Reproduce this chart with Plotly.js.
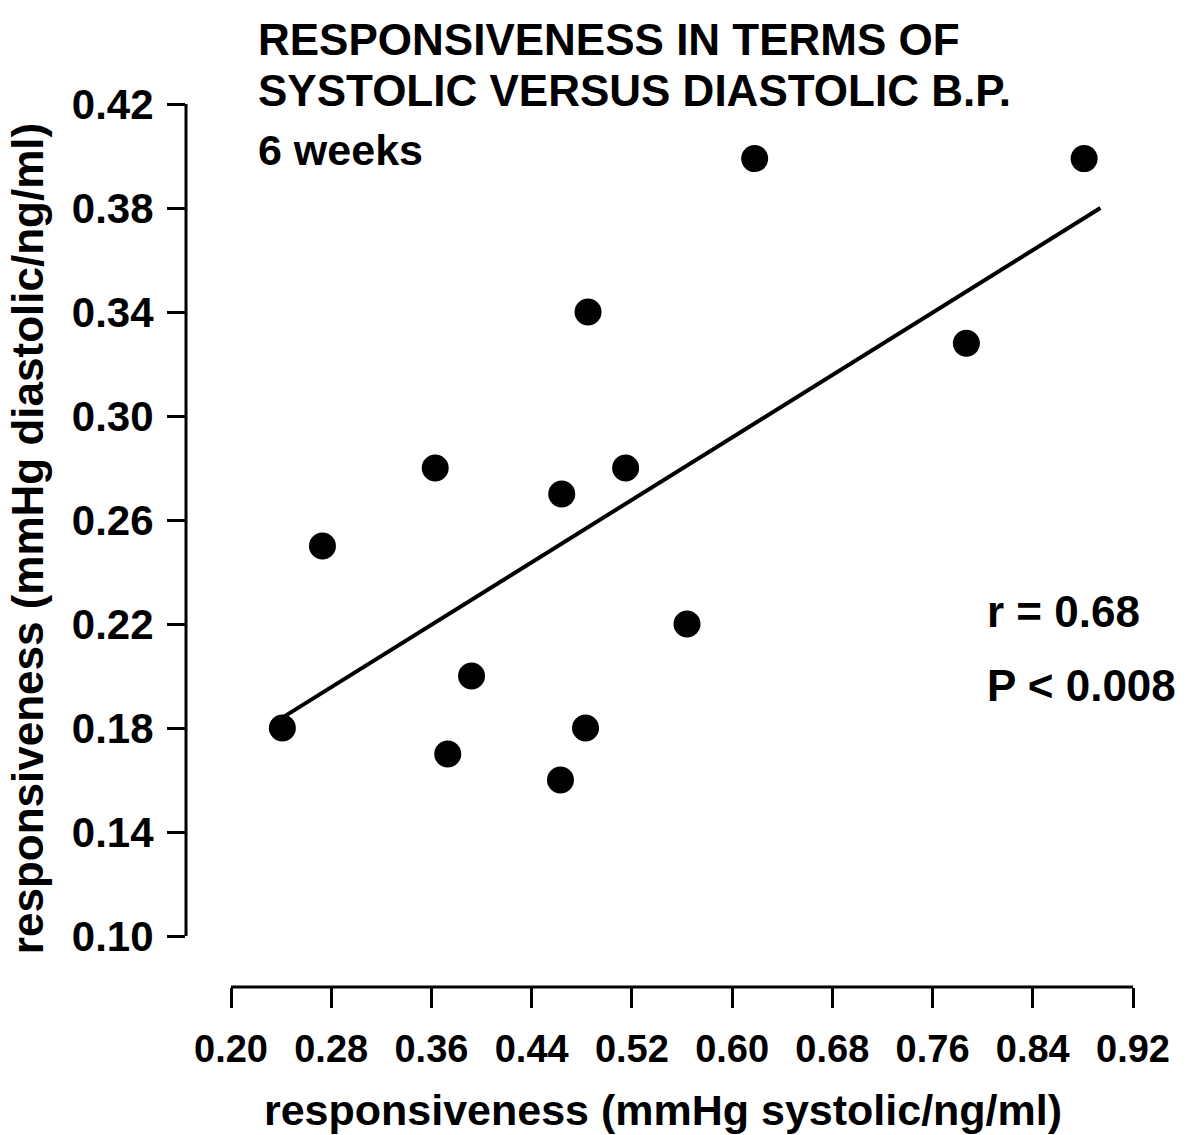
<!DOCTYPE html>
<html>
<head>
<meta charset="utf-8">
<script src="https://cdn.plot.ly/plotly-3.0.1.min.js"></script>
<style>html,body{margin:0;padding:0;background:#fff;}#chart{width:1196px;height:1135px;}</style>
</head>
<body>
<div id="chart"></div>
<script>
// Data
const systolic  = [0.241, 0.273, 0.363, 0.373, 0.392, 0.463, 0.464, 0.483, 0.485, 0.515, 0.564, 0.618, 0.787, 0.881];
const diastolic = [0.180, 0.250, 0.280, 0.170, 0.200, 0.160, 0.270, 0.180, 0.340, 0.280, 0.220, 0.399, 0.328, 0.399];
// regression line end points as drawn
const fitX = [0.241, 0.894];
const fitY = [0.184, 0.380];
// tick values
const xTicks = [0.20, 0.28, 0.36, 0.44, 0.52, 0.60, 0.68, 0.76, 0.84, 0.92];
const yTicks = [0.10, 0.14, 0.18, 0.22, 0.26, 0.30, 0.34, 0.38, 0.42];
const xTickText = xTicks.map(v => v.toFixed(2));
const yTickText = yTicks.map(v => v.toFixed(2));
const titleLines = ['RESPONSIVENESS IN TERMS OF', 'SYSTOLIC VERSUS DIASTOLIC B.P.'];
const subtitle = '6 weeks';
const statR = 'r = 0.68';
const statP = 'P < 0.008';

const FONT = '"Liberation Sans", Arial, Helvetica, sans-serif';
const L = 186, R = 1140, T = 90, B = 987;
const W = 1196, H = 1135;
// pixel scale of the reference: 0.20 -> 231, 0.92 -> 1133 ; 0.42 -> 104, 0.10 -> 936
const xpp = (1133 - 231) / 0.72, ypp = (936 - 104) / 0.32;
const xr = [0.20 - (231 - L) / xpp, 0.20 + (R - 231) / xpp];
const yr = [0.10 - (B - 936) / ypp, 0.42 + (104 - T) / ypp];
const px = p => (p - L) / (R - L);
const py = p => (B - p) / (B - T);

const traces = [
  {x: fitX, y: fitY, mode: 'lines', type: 'scatter', line: {color: '#000', width: 4}, hoverinfo: 'skip', showlegend: false},
  {x: systolic, y: diastolic, mode: 'markers', type: 'scatter', marker: {color: '#000', size: 27}, showlegend: false}
];

const bold = (size) => ({family: FONT, size: size, color: '#000', weight: 'bold'});

const layout = {
  width: W, height: H,
  paper_bgcolor: '#fff', plot_bgcolor: '#fff',
  margin: {l: L, r: W - R, t: T, b: H - B, pad: 0},
  showlegend: false,
  font: {family: FONT, color: '#000'},
  xaxis: {
    range: xr, tickvals: xTicks, ticktext: xTickText,
    showgrid: false, zeroline: false, showline: false,
    ticks: 'outside', ticklen: 20, tickwidth: 3, tickcolor: '#000',
    tickfont: bold(38),
    ticklabelstandoff: 8,
    title: {text: 'responsiveness (mmHg systolic/ng/ml)', font: bold(43), standoff: 26},
    automargin: false, fixedrange: true
  },
  yaxis: {
    range: yr, tickvals: yTicks, ticktext: yTickText,
    showgrid: false, zeroline: false, showline: false,
    ticks: 'outside', ticklen: 18, tickwidth: 3, tickcolor: '#000',
    tickfont: bold(42),
    ticklabelstandoff: 5,
    title: {text: 'responsiveness (mmHg diastolic/ng/ml)', font: bold(44), standoff: 14},
    automargin: false, fixedrange: true
  },
  shapes: [
    {type: 'line', xref: 'x', yref: 'paper', x0: xTicks[0], x1: xTicks[xTicks.length - 1], y0: 0, y1: 0, line: {color: '#000', width: 3}},
    {type: 'line', xref: 'paper', yref: 'y', x0: 0, x1: 0, y0: yTicks[0], y1: yTicks[yTicks.length - 1], line: {color: '#000', width: 3}}
  ],
  annotations: [
    {text: titleLines[0], xref: 'paper', yref: 'paper', x: px(256), y: py(40), xanchor: 'left', yanchor: 'middle', showarrow: false, font: bold(44)},
    {text: titleLines[1], xref: 'paper', yref: 'paper', x: px(256), y: py(90), xanchor: 'left', yanchor: 'middle', showarrow: false, font: bold(44)},
    {text: subtitle, xref: 'paper', yref: 'paper', x: px(256), y: py(150), xanchor: 'left', yanchor: 'middle', showarrow: false, font: bold(43)},
    {text: statR, xref: 'paper', yref: 'paper', x: px(985), y: py(611), xanchor: 'left', yanchor: 'middle', showarrow: false, font: bold(44)},
    {text: statP, xref: 'paper', yref: 'paper', x: px(985), y: py(686), xanchor: 'left', yanchor: 'middle', showarrow: false, font: bold(44)}
  ]
};

Plotly.newPlot('chart', traces, layout, {displayModeBar: false, staticPlot: true});
</script>
</body>
</html>
